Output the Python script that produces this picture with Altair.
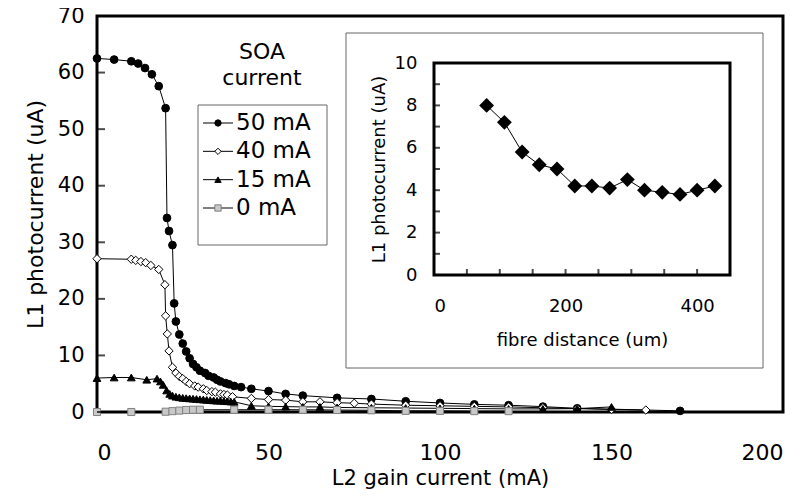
import altair as alt
import pandas as pd

# ---------------- data ----------------
series_names = ["50 mA", "40 mA", "15 mA", "0 mA"]

x50 = [0, 5, 10, 12, 14, 16, 18, 20, 20.4, 21, 22, 22.5, 23, 24, 25, 26, 27, 28, 29, 30,
       31.5, 32.5, 34, 35, 36, 37.5, 38.5, 40, 42, 45, 50, 55, 60, 70, 80, 90, 100, 110,
       120, 130, 140, 170]
y50 = [62.5, 62.3, 62.0, 61.6, 60.8, 59.7, 57.6, 53.7, 34.3, 32.0, 29.5, 19.2, 16.0, 13.7,
       12.1, 10.7, 9.5, 8.5, 7.9, 7.3, 6.9, 6.4, 6.1, 5.7, 5.4, 5.1, 4.9, 4.6, 4.4, 4.1, 3.7,
       3.2, 2.9, 2.5, 2.3, 1.9, 1.6, 1.35, 1.2, 0.95, 0.65, 0.2]

x40 = [0, 10, 11.3, 12.8, 14.2, 15.7, 18, 19.8, 20, 20.5, 21, 22, 23, 24, 25, 26, 27, 28.5,
       29.5, 31, 32, 33.5, 34.5, 36, 37, 38, 39.5, 45, 50, 55, 60, 65, 70, 75, 80, 90, 100,
       110, 120, 130, 140, 150, 160]
y40 = [27.1, 27.0, 26.8, 26.6, 26.4, 25.9, 25.2, 22.5, 17.0, 13.8, 10.8, 7.9, 6.9, 6.3, 5.9,
       5.4, 5.0, 4.6, 4.4, 4.1, 3.8, 3.6, 3.5, 3.2, 3.1, 3.0, 2.7, 2.4, 2.2, 2.1, 1.8, 1.8,
       1.65, 1.55, 1.4, 1.2, 1.1, 1.0, 0.9, 0.75, 0.6, 0.45, 0.35]

x15 = [0, 5, 10, 14.5, 17.5, 18.5, 19.3, 20.3, 21.2, 22, 23, 24, 25, 26, 27, 28, 29, 30, 31,
       32, 33, 34, 35, 36, 37, 38, 39, 40, 45, 50, 55, 60, 65, 70, 80, 90, 100, 110, 120,
       130, 140, 150]
y15 = [6.0, 6.1, 6.1, 5.7, 5.9, 5.4, 4.8, 3.8, 3.2, 2.9, 2.7, 2.6, 2.5, 2.45, 2.4, 2.35, 2.3,
       2.25, 2.2, 2.15, 2.1, 2.05, 2.0, 2.0, 1.95, 1.9, 1.85, 1.8, 1.1, 1.0, 0.95, 0.9, 0.9,
       0.8, 0.75, 0.7, 0.65, 0.6, 0.55, 0.55, 0.6, 0.9]

x0 = [0, 10, 20, 22, 24, 26, 28, 30, 40, 50, 60, 70, 80, 90, 100, 110, 120]
y0 = [0.0, 0.0, 0.05, 0.15, 0.25, 0.35, 0.4, 0.4, 0.4, 0.4, 0.4, 0.35, 0.3, 0.2, 0.2, 0.15,
      0.15]

inset_x = [80, 107, 134, 160, 187, 214, 240, 267, 294, 320, 347, 374, 400, 427]
inset_y = [8.0, 7.2, 5.8, 5.2, 5.0, 4.2, 4.2, 4.1, 4.5, 4.0, 3.9, 3.8, 4.0, 4.2]

main_y_ticks = [0, 10, 20, 30, 40, 50, 60, 70]
main_x_labels = [0, 50, 100, 150, 200]
inset_y_ticks = [0, 1, 2, 3, 4, 5, 6, 7, 8, 9, 10]
inset_y_labels = [0, 2, 4, 6, 8, 10]
inset_x_ticks = [50, 100, 150, 200, 250, 300, 350, 400, 450]
inset_x_labels = [0, 200, 400]

# ---------------- layout / style ----------------
FONT = "DejaVu Sans"
W, H = 686, 396
IX0, IX1 = 337, 633      # inset plot range (x) in plot pixels
IY0, IY1 = 259, 47       # inset plot range (y) in plot pixels

series_x = {"50 mA": x50, "40 mA": x40, "15 mA": x15, "0 mA": x0}
series_y = {"50 mA": y50, "40 mA": y40, "15 mA": y15, "0 mA": y0}
styles = {
    "50 mA": dict(shape="circle", fill="black", stroke="black", size=60),
    "40 mA": dict(shape="diamond", fill="white", stroke="black", size=70),
    "15 mA": dict(shape="triangle-up", fill="black", stroke="black", size=60),
    "0 mA": dict(shape="square", fill="#c8c8c8", stroke="#808080", size=50),
}

xs = alt.Scale(domain=[0, 200], nice=False, zero=False)
ys = alt.Scale(domain=[0, 70], nice=False, zero=False)

main_x_axis = alt.Axis(orient="bottom", values=main_x_labels, ticks=False, grid=False,
                       domain=False, labelFontSize=22, titleFontSize=21, labelPadding=30,
                       titlePadding=4, labelFont=FONT, titleFont=FONT,
                       titleFontWeight="normal", labelColor="black", titleColor="black",
                       title="L2 gain current (mA)")
main_y_axis = alt.Axis(orient="left", values=main_y_ticks, ticks=False, grid=False,
                       domain=False, labelFontSize=21, titleFontSize=22, labelPadding=13,
                       titlePadding=10, labelFont=FONT, titleFont=FONT,
                       titleFontWeight="normal", labelColor="black", titleColor="black",
                       title="L1 photocurrent (uA)")

main_layers = []
for name in series_names:
    df = pd.DataFrame({"x": series_x[name], "y": series_y[name]})
    st = styles[name]
    enc = dict(x=alt.X("x:Q", scale=xs, axis=main_x_axis),
               y=alt.Y("y:Q", scale=ys, axis=main_y_axis))
    main_layers.append(alt.Chart(df).mark_line(color="black", strokeWidth=1).encode(**enc))
    main_layers.append(alt.Chart(df).mark_point(shape=st["shape"], filled=True, fill=st["fill"],
                                                stroke=st["stroke"], strokeWidth=1,
                                                size=st["size"], opacity=1).encode(**enc))

main_ticks = alt.Chart(pd.DataFrame({"v": main_y_ticks})).mark_tick(
    orient="horizontal", size=8, thickness=2, color="black").encode(
    y=alt.Y("v:Q", scale=ys, axis=main_y_axis), x=alt.value(4))
main_layers.append(main_ticks)
main = alt.layer(*main_layers)

# ---------------- inset ----------------
ixs = alt.Scale(domain=[0, 450], range=[IX0, IX1], nice=False, zero=False)
iys = alt.Scale(domain=[0, 10], range=[IY0, IY1], nice=False, zero=False)
inset_x_axis = alt.Axis(orient="bottom", offset=-(H - IY0), values=inset_x_labels, ticks=False,
                        grid=False, domain=False, labelFontSize=18, titleFontSize=18,
                        labelPadding=22, titlePadding=16, labelFont=FONT, titleFont=FONT,
                        titleFontWeight="normal", labelColor="black", titleColor="black",
                        title="fibre distance (um)", zindex=2)
inset_y_axis = alt.Axis(orient="left", offset=-IX0, values=inset_y_labels, ticks=False,
                        grid=False, domain=False, labelFontSize=18, titleFontSize=18,
                        labelPadding=17, titlePadding=6, labelFont=FONT, titleFont=FONT,
                        titleFontWeight="normal", labelColor="black", titleColor="black",
                        title="L1 photocurrent (uA)", zindex=2)

inset_box = alt.Chart(pd.DataFrame({"a": [0]})).mark_rect(
    fill="white", fillOpacity=0, stroke="#666666", strokeWidth=1).encode(
    x=alt.value(249), x2=alt.value(666), y=alt.value(17), y2=alt.value(352))
inset_frame = alt.Chart(pd.DataFrame({"a": [0]})).mark_rect(
    fill="white", fillOpacity=0, stroke="black", strokeWidth=3).encode(
    x=alt.value(IX0), x2=alt.value(IX1), y=alt.value(IY1), y2=alt.value(IY0))

idf = pd.DataFrame({"x": inset_x, "y": inset_y})
ienc = dict(x=alt.X("x:Q", scale=ixs, axis=inset_x_axis),
            y=alt.Y("y:Q", scale=iys, axis=inset_y_axis))
inset_line = alt.Chart(idf).mark_line(color="black", strokeWidth=1).encode(**ienc)
inset_pts = alt.Chart(idf).mark_point(shape="diamond", filled=True, color="black",
                                      size=220, opacity=1).encode(**ienc)
inset_yt = alt.Chart(pd.DataFrame({"v": inset_y_ticks})).mark_tick(
    orient="horizontal", size=6, thickness=2, color="black").encode(
    y=alt.Y("v:Q", scale=iys, axis=inset_y_axis), x=alt.value(IX0 + 3))
inset_xt = alt.Chart(pd.DataFrame({"v": inset_x_ticks})).mark_tick(
    orient="vertical", size=6, thickness=2, color="black").encode(
    x=alt.X("v:Q", scale=ixs, axis=inset_x_axis), y=alt.value(IY0 - 3))
inset = alt.layer(inset_box, inset_frame, inset_yt, inset_xt, inset_line, inset_pts)

# ---------------- legend ----------------
ldf = pd.DataFrame({"series": series_names})
ly = alt.Y("series:N", scale=alt.Scale(type="point", domain=series_names, range=[107, 192],
                                       padding=0), axis=None)
leg_box = alt.Chart(pd.DataFrame({"a": [0]})).mark_rect(
    fill="white", stroke="#666666", strokeWidth=1).encode(
    x=alt.value(101), x2=alt.value(230), y=alt.value(89), y2=alt.value(229))
leg_title = alt.Chart(pd.DataFrame({"a": [0]})).mark_text(
    text=["SOA", "current"], font=FONT, fontSize=22, align="center", baseline="middle",
    lineHeight=26, color="black").encode(x=alt.value(165), y=alt.value(36))
leg_rule = alt.Chart(ldf).mark_rule(color="black", strokeWidth=1).encode(
    y=ly, x=alt.value(106), x2=alt.value(136))
leg_pts = alt.Chart(ldf).mark_point(filled=True, strokeWidth=1, size=40, opacity=1).encode(
    y=ly, x=alt.value(121),
    shape=alt.Shape("series:N", scale=alt.Scale(domain=series_names,
                                                range=[styles[n]["shape"] for n in series_names]),
                    legend=None),
    fill=alt.Fill("series:N", scale=alt.Scale(domain=series_names,
                                              range=[styles[n]["fill"] for n in series_names]),
                  legend=None),
    stroke=alt.Stroke("series:N", scale=alt.Scale(domain=series_names,
                                                  range=[styles[n]["stroke"] for n in series_names]),
                      legend=None))
leg_text = alt.Chart(ldf).mark_text(align="left", baseline="middle", font=FONT, fontSize=23,
                                    color="black").encode(
    y=ly, x=alt.value(139), text="series:N")
legend = alt.layer(leg_box, leg_title, leg_rule, leg_pts, leg_text)

chart = alt.layer(main, inset, legend).resolve_scale(
    x="independent", y="independent"
).properties(
    width=W, height=H,
    autosize=alt.AutoSizeParams(type="none"),
    padding={"left": 89, "top": 8, "right": 14, "bottom": 79},
    background="white",
).configure_view(stroke="black", strokeWidth=3)

chart.save("out.html", embed_options={"renderer": "svg", "actions": False})
